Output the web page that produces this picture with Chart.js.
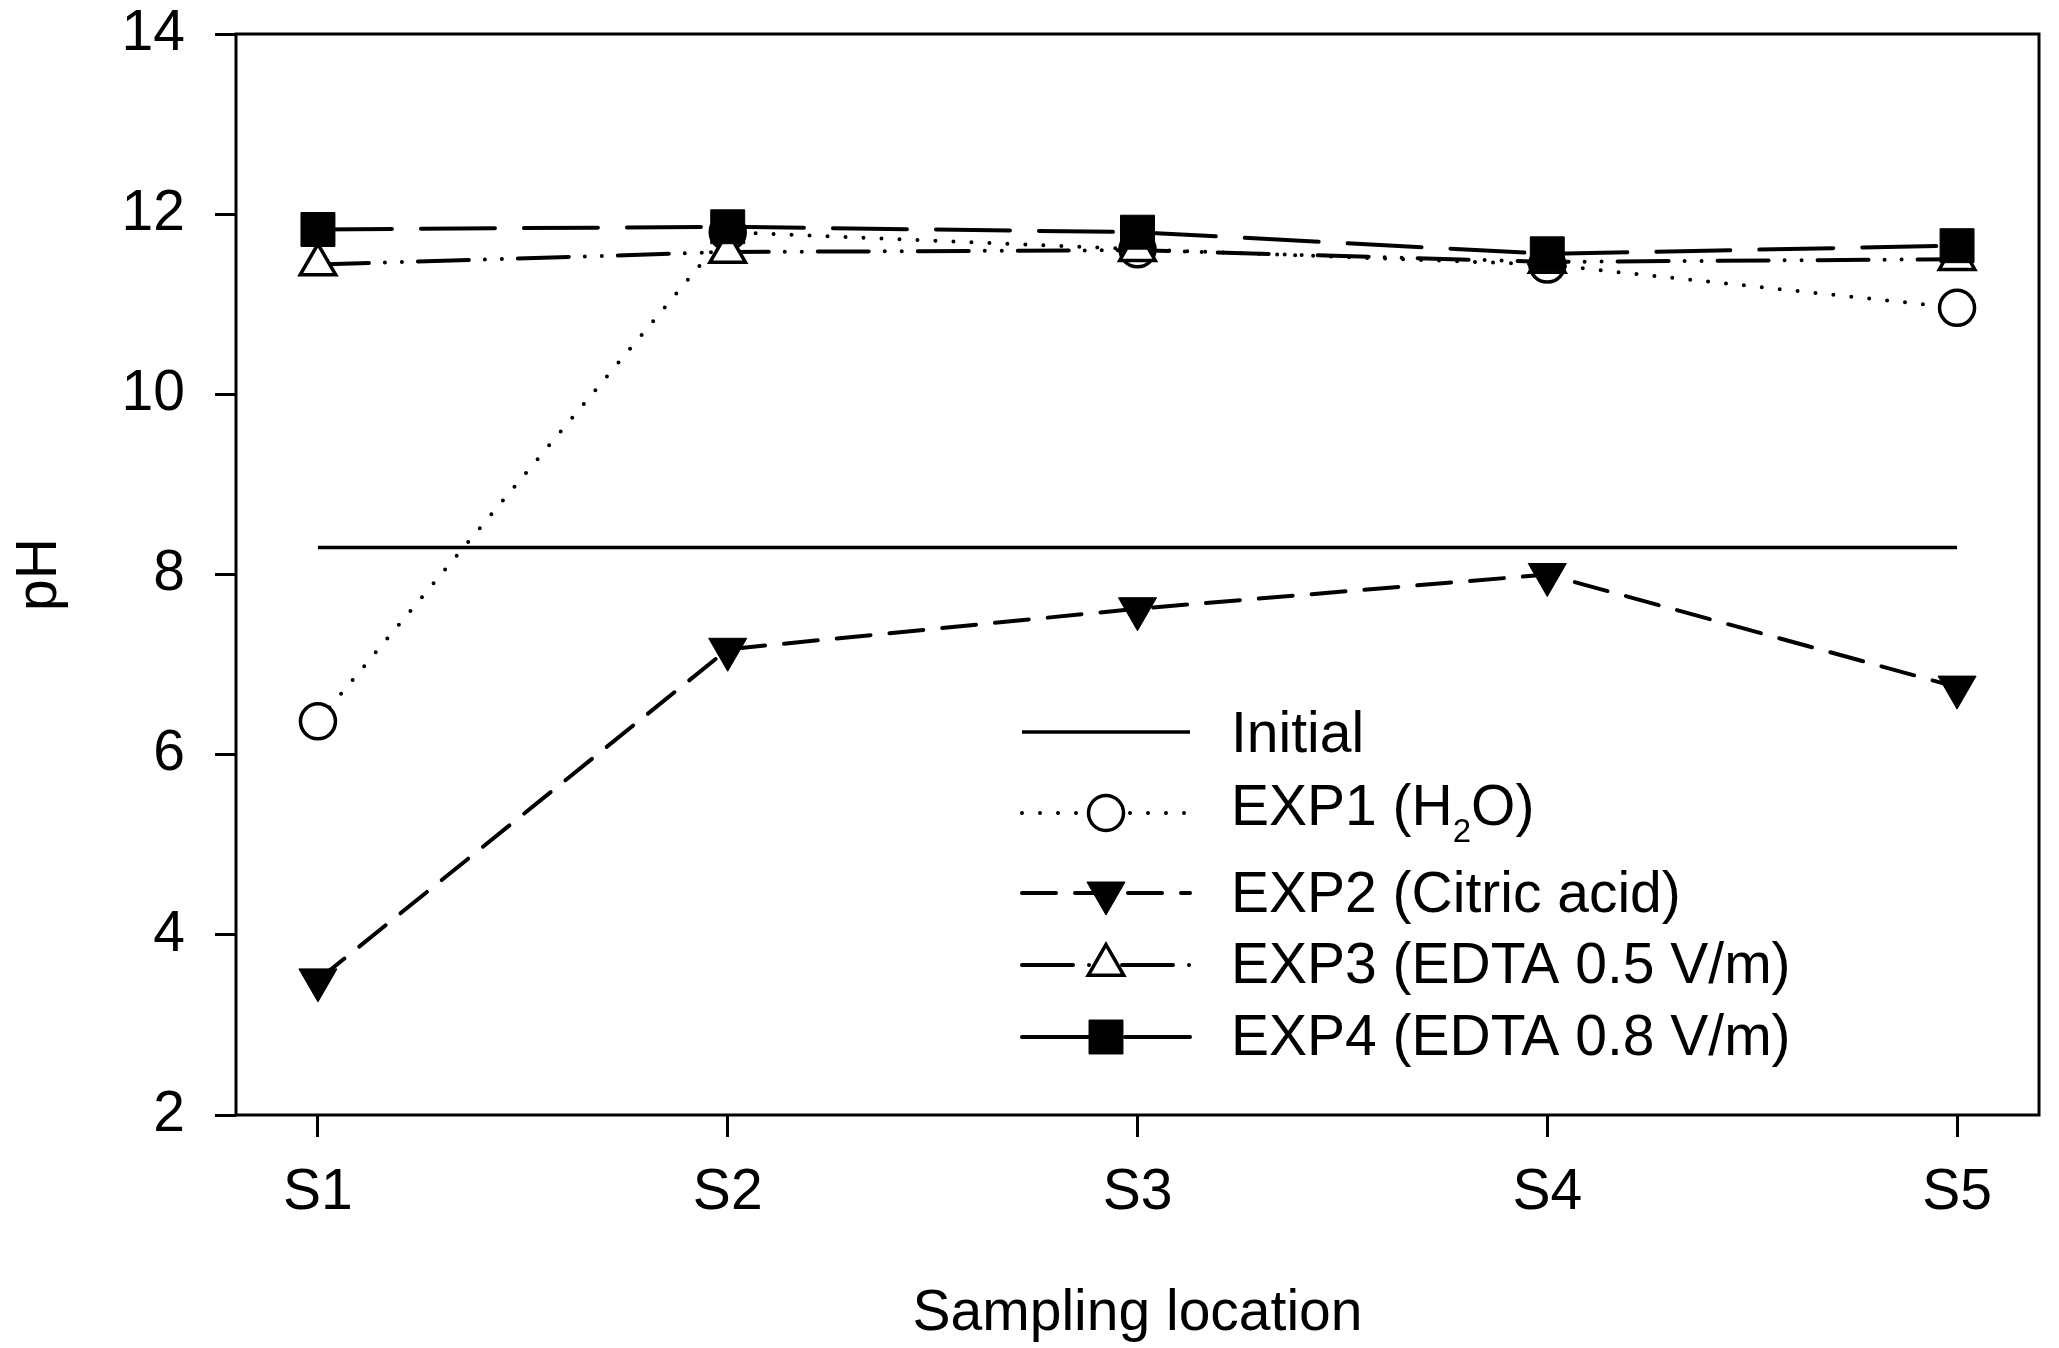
<!DOCTYPE html>
<html>
<head>
<meta charset="utf-8">
<title>pH by sampling location</title>
<script src="https://cdn.jsdelivr.net/npm/chart.js@4/dist/chart.umd.min.js"></script>
<style>
  html, body { margin: 0; padding: 0; background: #fff; }
  canvas { display: block; }
</style>
</head>
<body>
<canvas id="phChart" width="2059" height="1348"></canvas>
<script>
// Sampling locations along the cell and the pH axis ticks
const locations = ['S1', 'S2', 'S3', 'S4', 'S5'];
const phTicks = [2, 4, 6, 8, 10, 12, 14];

// pH measured at each location
const initialPH = [8.3, 8.3, 8.3, 8.3, 8.3];
const exp1PH = [6.37, 11.8, 11.61, 11.44, 10.96];
const exp2PH = [3.5, 7.17, 7.62, 8.0, 6.75];
const exp3PH = [11.44, 11.58, 11.6, 11.47, 11.5];
const exp4PH = [11.83, 11.86, 11.8, 11.56, 11.65];

const seriesLabels = [
  'Initial',
  'EXP1 (H₂O)',
  'EXP2 (Citric acid)',
  'EXP3 (EDTA 0.5 V/m)',
  'EXP4 (EDTA 0.8 V/m)'
];

const FONT_FAMILY = "'Liberation Sans', Arial, Helvetica, sans-serif";
const FONT_SIZE = 57;

const toPoints = values => values.map((v, i) => ({ x: i, y: v }));

// Rectangle around the plotting area
const framePlugin = {
  id: 'frame',
  beforeDatasetsDraw(chart) {
    const { ctx, chartArea: a } = chart;
    ctx.save();
    ctx.strokeStyle = '#000';
    ctx.lineWidth = 3;
    ctx.strokeRect(a.left, a.top, a.right - a.left, a.bottom - a.top);
    ctx.restore();
  }
};

// Key drawn inside the plot, each entry uses its dataset's own line and marker style
const keyPlugin = {
  id: 'seriesKey',
  afterDatasetsDraw(chart, args, opts) {
    const ctx = chart.ctx;
    const midX = (opts.x0 + opts.x1) / 2;
    chart.data.datasets.forEach((ds, i) => {
      const row = opts.rows[i];
      ctx.save();
      ctx.strokeStyle = ds.borderColor;
      ctx.lineWidth = ds.borderWidth;
      ctx.lineCap = ds.borderCapStyle || 'butt';
      ctx.setLineDash(ds.borderDash || []);
      ctx.beginPath();
      ctx.moveTo(opts.x0, row.y);
      ctx.lineTo(opts.x1, row.y);
      ctx.stroke();
      ctx.setLineDash([]);
      ctx.lineCap = 'butt';
      if (ds.pointRadius > 0) {
        ctx.fillStyle = ds.pointBackgroundColor;
        ctx.strokeStyle = ds.pointBorderColor;
        ctx.lineWidth = ds.pointBorderWidth;
        Chart.helpers.drawPoint(ctx, {
          pointStyle: ds.pointStyle,
          rotation: ds.pointRotation || 0,
          radius: ds.pointRadius,
          borderWidth: ds.pointBorderWidth
        }, midX, row.y);
      }
      // label text, with a lowered small "2" for the subscript
      ctx.fillStyle = '#000';
      ctx.textBaseline = 'alphabetic';
      ctx.textAlign = 'left';
      const mainFont = `${FONT_SIZE}px ${FONT_FAMILY}`;
      const subFont = `33px ${FONT_FAMILY}`;
      let x = opts.textX;
      ds.label.split('₂').forEach((part, k) => {
        if (k > 0) {
          ctx.font = subFont;
          ctx.fillText('2', x, row.base + 17);
          x += ctx.measureText('2').width;
        }
        ctx.font = mainFont;
        ctx.fillText(part, x, row.base);
        x += ctx.measureText(part).width;
      });
      ctx.restore();
    });
  }
};

const ctx = document.getElementById('phChart').getContext('2d');

new Chart(ctx, {
  type: 'line',
  data: {
    datasets: [
      {
        label: seriesLabels[0],
        data: toPoints(initialPH),
        borderColor: '#000',
        borderWidth: 3.5,
        pointRadius: 0,
        order: 4
      },
      {
        label: seriesLabels[1],
        data: toPoints(exp1PH),
        borderColor: '#000',
        borderWidth: 4,
        borderDash: [0, 18],
        borderCapStyle: 'round',
        pointStyle: 'circle',
        pointRadius: 17.5,
        pointBorderWidth: 3.5,
        pointBackgroundColor: '#fff',
        pointBorderColor: '#000',
        order: 3
      },
      {
        label: seriesLabels[2],
        data: toPoints(exp2PH),
        borderColor: '#000',
        borderWidth: 4,
        borderDash: [34, 19],
        borderCapStyle: 'round',
        pointStyle: 'triangle',
        pointRotation: 180,
        pointRadius: 22,
        pointBorderWidth: 1,
        pointBackgroundColor: '#000',
        pointBorderColor: '#000',
        order: 2
      },
      {
        label: seriesLabels[3],
        data: toPoints(exp3PH),
        borderColor: '#000',
        borderWidth: 4,
        borderDash: [51, 16, 0, 17, 0, 16],
        borderCapStyle: 'round',
        pointStyle: 'triangle',
        pointRadius: 20.5,
        pointBorderWidth: 3.5,
        pointBackgroundColor: '#fff',
        pointBorderColor: '#000',
        order: 1
      },
      {
        label: seriesLabels[4],
        data: toPoints(exp4PH),
        borderColor: '#000',
        borderWidth: 4,
        borderDash: [74, 29],
        borderCapStyle: 'round',
        pointStyle: 'rect',
        pointRadius: 24,
        pointBorderWidth: 1,
        pointBackgroundColor: '#000',
        pointBorderColor: '#000',
        order: 0
      }
    ]
  },
  options: {
    responsive: false,
    animation: false,
    devicePixelRatio: 1,
    layout: { autoPadding: false, padding: { top: 34, right: 20, bottom: 0, left: 0 } },
    plugins: {
      legend: { display: false },
      tooltip: { enabled: false },
      seriesKey: {
        x0: 1022,
        x1: 1190,
        textX: 1231,
        rows: [
          { y: 732, base: 752 },
          { y: 813, base: 825 },
          { y: 893, base: 912 },
          { y: 965, base: 983 },
          { y: 1037, base: 1055 }
        ]
      }
    },
    scales: {
      x: {
        type: 'linear',
        min: -0.2,
        max: 4.2,
        afterBuildTicks: axis => { axis.ticks = locations.map((_, i) => ({ value: i })); },
        afterFit: axis => {
          axis.height = 233;
          axis.paddingLeft = 0;
          axis.paddingRight = 0;
        },
        border: { display: false },
        grid: {
          display: true,
          drawOnChartArea: false,
          drawTicks: true,
          tickLength: 22,
          tickWidth: 3,
          tickColor: '#000',
          color: '#000'
        },
        ticks: {
          autoSkip: false,
          maxRotation: 0,
          padding: 22,
          color: '#000',
          font: { family: FONT_FAMILY, size: FONT_SIZE },
          callback: value => locations[value]
        },
        title: {
          display: true,
          text: 'Sampling location',
          color: '#000',
          font: { family: FONT_FAMILY, size: FONT_SIZE },
          padding: { top: 0, bottom: 0 }
        }
      },
      y: {
        min: 2,
        max: 14,
        afterBuildTicks: axis => { axis.ticks = phTicks.map(v => ({ value: v })); },
        afterFit: axis => {
          axis.width = 236;
          axis.paddingTop = 0;
          axis.paddingBottom = 0;
        },
        border: { display: false },
        grid: {
          display: true,
          drawOnChartArea: false,
          drawTicks: true,
          tickLength: 21,
          tickWidth: 3,
          tickColor: '#000',
          color: '#000'
        },
        ticks: {
          padding: 30,
          color: '#000',
          font: { family: FONT_FAMILY, size: FONT_SIZE }
        },
        title: {
          display: true,
          text: 'pH',
          color: '#000',
          font: { family: FONT_FAMILY, size: FONT_SIZE },
          padding: { top: 6, bottom: 0 }
        }
      }
    }
  },
  plugins: [framePlugin, keyPlugin]
});
</script>
</body>
</html>
